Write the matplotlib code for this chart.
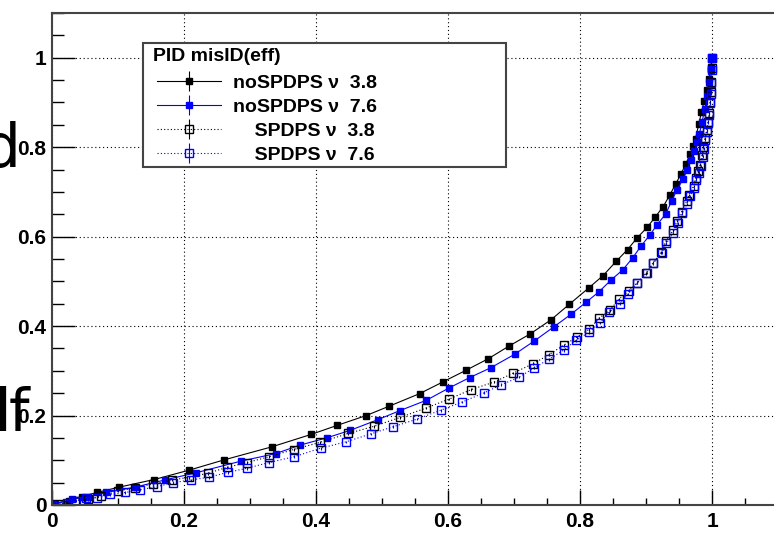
import numpy as np
import matplotlib
matplotlib.use("Agg")
import matplotlib.pyplot as plt
from matplotlib.patches import Rectangle
from matplotlib.ticker import MultipleLocator, FixedLocator, FixedFormatter

# (efficiency, misID) points
nospdps_38 = [(0.0, 0.0), (0.002, 0.004), (0.025, 0.009), (0.045, 0.019), (0.068, 0.028),
              (0.102, 0.040), (0.155, 0.057), (0.208, 0.078), (0.261, 0.101), (0.333, 0.130),
              (0.393, 0.158), (0.432, 0.178), (0.476, 0.200), (0.511, 0.221), (0.557, 0.249),
              (0.592, 0.275), (0.627, 0.301), (0.661, 0.327), (0.692, 0.355), (0.724, 0.382),
              (0.756, 0.414), (0.784, 0.449), (0.813, 0.485), (0.835, 0.513), (0.855, 0.545),
              (0.872, 0.571), (0.887, 0.598), (0.902, 0.621), (0.914, 0.644), (0.926, 0.667),
              (0.936, 0.693), (0.945, 0.718), (0.953, 0.740), (0.960, 0.762), (0.967, 0.784),
              (0.971, 0.802), (0.975, 0.819), (0.980, 0.852), (0.984, 0.878), (0.988, 0.903),
              (0.992, 0.928), (0.995, 0.952), (0.998, 0.976), (1.0, 1.0)]

nospdps_76 = [(0.0, 0.0), (0.0045, 0.002), (0.030, 0.013), (0.055, 0.019), (0.082, 0.028),
              (0.126, 0.040), (0.171, 0.056), (0.218, 0.072), (0.286, 0.098), (0.339, 0.115),
              (0.376, 0.134), (0.416, 0.150), (0.452, 0.167), (0.494, 0.191), (0.527, 0.211),
              (0.567, 0.234), (0.602, 0.262), (0.633, 0.285), (0.665, 0.307), (0.701, 0.337),
              (0.731, 0.367), (0.761, 0.399), (0.786, 0.426), (0.809, 0.453), (0.829, 0.477),
              (0.847, 0.503), (0.865, 0.526), (0.880, 0.553), (0.892, 0.578), (0.906, 0.604),
              (0.917, 0.627), (0.930, 0.651), (0.939, 0.680), (0.947, 0.705), (0.956, 0.728),
              (0.962, 0.748), (0.968, 0.771), (0.973, 0.791), (0.978, 0.811), (0.981, 0.830),
              (0.985, 0.857), (0.989, 0.885), (0.993, 0.915), (0.996, 0.945), (0.998, 0.972),
              (1.0, 1.0)]

spdps_38 = [(0.0, 0.0), (0.012, 0.002), (0.035, 0.010), (0.055, 0.013), (0.074, 0.020),
            (0.100, 0.031), (0.126, 0.039), (0.153, 0.047), (0.182, 0.056), (0.208, 0.062),
            (0.236, 0.071), (0.265, 0.084), (0.296, 0.095), (0.329, 0.108), (0.366, 0.124),
            (0.406, 0.140), (0.449, 0.160), (0.488, 0.176), (0.528, 0.196), (0.567, 0.217),
            (0.602, 0.237), (0.635, 0.258), (0.670, 0.275), (0.699, 0.295), (0.729, 0.316),
            (0.753, 0.336), (0.775, 0.357), (0.795, 0.375), (0.814, 0.393), (0.829, 0.418),
            (0.845, 0.435), (0.859, 0.460), (0.874, 0.479), (0.887, 0.497), (0.900, 0.518),
            (0.911, 0.542), (0.923, 0.565), (0.930, 0.590), (0.941, 0.614), (0.947, 0.635),
            (0.954, 0.656), (0.962, 0.680), (0.965, 0.693), (0.972, 0.713), (0.975, 0.731),
            (0.979, 0.746), (0.982, 0.761), (0.985, 0.783), (0.987, 0.801), (0.989, 0.820),
            (0.992, 0.838), (0.994, 0.857), (0.996, 0.876), (0.997, 0.902), (0.998, 0.924),
            (0.999, 0.946), (0.9995, 0.976), (1.0, 1.0)]

spdps_76 = [(0.0, 0.0), (0.022, 0.004), (0.037, 0.010), (0.052, 0.015), (0.068, 0.016),
            (0.088, 0.024), (0.111, 0.028), (0.133, 0.034), (0.159, 0.041), (0.184, 0.050),
            (0.210, 0.056), (0.238, 0.062), (0.266, 0.073), (0.295, 0.082), (0.329, 0.095),
            (0.367, 0.108), (0.407, 0.127), (0.445, 0.141), (0.483, 0.159), (0.517, 0.175),
            (0.553, 0.192), (0.589, 0.212), (0.621, 0.230), (0.655, 0.251), (0.681, 0.269),
            (0.708, 0.286), (0.731, 0.307), (0.753, 0.326), (0.775, 0.346), (0.794, 0.368),
            (0.813, 0.386), (0.830, 0.407), (0.844, 0.431), (0.860, 0.450), (0.873, 0.472),
            (0.887, 0.497), (0.901, 0.519), (0.911, 0.540), (0.924, 0.564), (0.931, 0.585),
            (0.941, 0.608), (0.948, 0.630), (0.955, 0.652), (0.962, 0.673), (0.967, 0.690),
            (0.972, 0.708), (0.976, 0.727), (0.980, 0.743), (0.983, 0.758), (0.986, 0.779),
            (0.988, 0.797), (0.990, 0.816), (0.992, 0.835), (0.994, 0.854), (0.996, 0.873),
            (0.997, 0.898), (0.998, 0.920), (0.999, 0.943), (0.9995, 0.972), (1.0, 1.0)]

series = [nospdps_38, nospdps_76, spdps_38, spdps_76]
series_labels = ["noSPDPS ν  3.8", "noSPDPS ν  7.6", "    SPDPS ν  3.8", "    SPDPS ν  7.6"]
legend_title = "PID misID(eff)"
point_err = 0.003

x_ticks = [0, 0.2, 0.4, 0.6, 0.8, 1.0]
x_tick_labels = ["0", "0.2", "0.4", "0.6", "0.8", "1"]
y_ticks = [0, 0.2, 0.4, 0.6, 0.8, 1.0]
y_tick_labels = ["0", "0.2", "0.4", "0.6", "0.8", "1"]

colors = ["black", "#0000ff", "black", "#0000ff"]
filled = [True, True, False, False]
styles = ["-", "-", (0, (1, 2)), (0, (1, 2))]

W, H = 774, 540
fig = plt.figure(figsize=(W / 100, H / 100), dpi=100)
ax = fig.add_axes([52 / W, 35 / H, 726 / W, 492 / H])

for pts, lab, c, f, ls in zip(series, series_labels, colors, filled, styles):
    arr = np.array(pts)
    ax.errorbar(arr[:, 0], arr[:, 1], yerr=point_err, fmt="s", linestyle=ls,
                color=c, lw=0.8, elinewidth=0.8, capsize=0,
                ms=4.8 if f else 5.2, mfc=c if f else "none", mec=c,
                mew=1.0, label=lab)

ax.set_xlim(0, 1.1)
ax.set_ylim(0, 1.1)

ax.xaxis.set_major_locator(FixedLocator(x_ticks))
ax.xaxis.set_major_formatter(FixedFormatter(x_tick_labels))
ax.yaxis.set_major_locator(FixedLocator(y_ticks))
ax.yaxis.set_major_formatter(FixedFormatter(y_tick_labels))
ax.xaxis.set_minor_locator(MultipleLocator(0.05))
ax.yaxis.set_minor_locator(MultipleLocator(0.05))

ax.tick_params(axis="x", which="major", direction="in", length=11, width=1, pad=5)
ax.tick_params(axis="x", which="minor", direction="in", length=5, width=1)
ax.tick_params(axis="y", which="major", direction="in", length=16.5, width=1, pad=4)
ax.tick_params(axis="y", which="minor", direction="in", length=8.5, width=1)
for lab in ax.get_xticklabels() + ax.get_yticklabels():
    lab.set_fontfamily("Liberation Sans")
    lab.set_fontweight("bold")
    lab.set_fontsize(15)

ax.grid(True, which="major", color="black", linestyle=(0, (1, 2.5)), linewidth=0.8)
ax.set_axisbelow(True)
for s in ax.spines.values():
    s.set_color("#444444")
    s.set_linewidth(1.5)

# legend: frame and title drawn separately, entries by ax.legend
frame = Rectangle((143 / W, 1 - 167 / H), 363 / W, 124 / H, transform=fig.transFigure,
                  facecolor="white", edgecolor="#444444", lw=1.5, zorder=4.9, clip_on=False)
ax.add_patch(frame)
ax.text(153 / W, 1 - 61 / H, legend_title, transform=fig.transFigure, ha="left",
        va="baseline", family="Liberation Sans", weight="bold", fontsize=14, zorder=6)
leg = ax.legend(loc="upper left", bbox_to_anchor=(157 / W, 1 - 74 / H),
                bbox_transform=fig.transFigure, borderaxespad=0, borderpad=0,
                prop=dict(family="Liberation Sans", weight="bold", size=14),
                handlelength=3.3, handletextpad=0.62, labelspacing=0.33,
                frameon=False)
leg.set_zorder(6)

# stray large glyphs along the left edge
fig.text(21 / W, 1 - 167 / H, "d", ha="right", va="baseline",
         fontsize=43, family="DejaVu Sans")
fig.text(10 / W, 1 - 431 / H, "l", ha="right", va="baseline",
         fontsize=42, family="DejaVu Sans", weight="bold")
fig.text(9 / W, 1 - 430 / H, "f", ha="left", va="baseline",
         fontsize=42, family="DejaVu Sans")

fig.savefig("out.png", dpi=100)
